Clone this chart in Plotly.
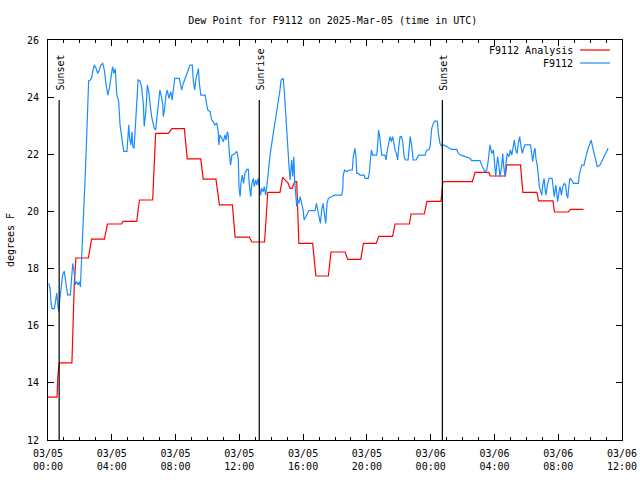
import pandas as pd
import plotly.graph_objects as go

base = pd.Timestamp("2025-03-05 00:00")

# Station observations (minutes after 03/05 00:00 UTC, dew point degF)
obs_minutes = [3,8,11,15,24,27,33,37,40,45,50,55,61,68,74,84,89,93,98,103,108,114,118,122,127,131,134,139,143,147,151,153,159,164,168,174,181,187,193,199,206,212,218,225,231,237,243,248,253,259,266,271,277,281,285,297,301,304,307,312,316,319,324,329,335,339,346,352,359,362,368,371,374,379,384,389,394,400,405,411,417,421,428,432,434,439,444,449,455,462,467,471,477,494,499,503,509,517,522,528,534,543,547,552,557,562,566,569,575,591,595,601,610,616,622,628,635,640,643,647,654,660,666,670,675,678,682,687,692,700,710,716,719,723,726,731,736,741,748,754,757,763,767,773,776,782,786,791,797,800,804,810,814,819,824,829,835,842,848,854,861,867,873,877,885,889,894,898,902,907,911,917,921,925,928,932,936,940,944,949,955,960,964,970,975,982,1005,1010,1015,1020,1025,1030,1035,1040,1045,1050,1055,1068,1077,1105,1109,1111,1116,1124,1130,1139,1145,1149,1155,1159,1162,1168,1174,1190,1193,1205,1209,1212,1217,1222,1237,1241,1244,1248,1252,1256,1268,1272,1277,1282,1287,1292,1297,1302,1306,1311,1316,1320,1325,1330,1335,1340,1345,1355,1360,1363,1369,1374,1385,1390,1395,1419,1425,1433,1438,1444,1450,1456,1465,1469,1475,1481,1488,1500,1509,1519,1538,1544,1554,1563,1576,1588,1594,1626,1632,1638,1644,1651,1657,1663,1667,1670,1676,1679,1685,1688,1692,1697,1701,1707,1711,1715,1720,1723,1728,1735,1740,1745,1750,1755,1760,1765,1770,1775,1780,1785,1790,1795,1816,1820,1824,1829,1833,1836,1841,1845,1849,1854,1858,1862,1867,1870,1874,1879,1883,1886,1897,1902,1905,1911,1914,1918,1923,1927,1932,1937,1943,1948,1952,1956,1959,1964,1971,1977,1996,1999,2005,2009,2017,2022,2027,2033,2040,2044,2049,2055,2062,2067,2077,2084,2090,2096,2102,2108]
obs_dewpoint = [17.48,17.31,16.84,16.6,16.6,16.84,17.14,16.73,16.49,16.96,17.43,17.78,17.91,17.43,17.08,17.08,17.89,18.18,17.89,17.43,17.54,17.43,17.54,17.36,18.47,19.17,20.1,21.04,21.97,23.14,24.31,24.57,24.6,24.67,24.89,25.12,25.0,24.83,24.95,25.12,25.18,24.95,24.48,24.07,24.31,24.78,25.07,24.83,25.0,24.07,23.84,23.03,22.68,22.33,22.1,22.1,22.56,23.03,22.56,22.33,22.79,22.27,22.21,23.14,23.96,24.6,24.57,24.37,23.73,22.97,23.49,24.19,24.43,24.19,23.73,23.38,23.14,22.91,22.85,23.38,23.73,24.25,23.96,23.73,23.32,23.61,24.07,24.25,23.96,24.19,23.9,24.31,24.66,24.66,24.43,24.25,24.48,24.66,24.78,24.95,25.12,25.12,24.54,24.25,24.66,24.83,25.0,24.54,24.07,24.07,23.84,23.55,23.49,23.2,23.14,23.03,23.08,22.85,22.33,22.68,22.56,22.44,22.68,22.5,22.79,22.68,22.1,21.62,21.97,22.0,22.1,21.86,20.81,20.52,20.98,21.27,20.98,21.33,21.47,21.47,20.98,20.52,20.98,21.16,20.87,21.1,20.92,21.16,20.75,20.57,20.81,20.69,20.87,20.57,20.92,21.45,21.92,22.38,22.73,23.08,23.55,23.96,24.25,24.6,24.66,24.25,23.43,22.62,22.03,21.57,21.1,21.8,21.22,21.92,21.1,20.63,20.17,20.4,20.28,20.52,20.28,20.05,19.7,19.82,19.93,20.03,20.03,20.28,20.05,19.82,19.58,20.05,20.28,19.93,19.58,20.28,20.46,20.52,20.57,20.57,20.75,21.27,21.45,21.39,21.43,21.45,21.45,21.92,22.21,21.92,21.33,21.33,21.27,21.27,21.16,21.16,21.33,21.68,22.15,21.97,21.97,22.38,22.85,22.62,22.33,21.97,21.97,21.8,22.15,22.44,22.62,22.44,22.62,22.38,22.15,22.03,21.8,22.27,22.62,22.62,22.44,21.92,21.8,21.8,22.27,22.62,22.27,21.8,21.8,21.92,21.97,21.97,22.15,22.15,22.27,22.91,23.08,23.16,23.16,22.73,22.38,22.29,22.33,22.27,22.21,22.17,22.17,22.03,21.97,21.94,21.92,21.86,21.78,21.78,21.62,21.51,21.39,21.45,21.8,22.33,22.15,22.03,22.15,21.8,21.22,21.57,21.92,21.57,21.22,21.57,22.03,21.57,21.22,21.62,22.03,21.92,22.15,21.97,22.27,22.5,22.15,22.03,22.38,22.62,22.27,22.03,22.21,22.33,22.33,22.1,21.74,22.1,22.21,21.86,21.62,21.27,20.87,20.69,20.57,20.92,21.16,20.81,20.57,20.92,21.04,21.16,21.16,20.69,20.52,20.92,20.69,20.34,20.69,20.87,20.57,20.87,20.98,20.92,20.57,20.46,20.81,21.16,21.1,20.98,20.98,21.27,21.51,21.62,21.62,21.86,22.03,22.21,22.38,22.5,22.27,22.03,21.8,21.57,21.62,21.74,21.86,22.0,22.1,22.21]

# Analysis (minutes, dew point degF)
ana_minutes = [0,34,37,42,90,95,99,105,152,164,212,224,277,282,334,344,394,405,453,466,513,524,575,584,632,645,694,704,758,767,815,827,873,883,892,904,911,919,923,929,936,940,942,944,996,1008,1055,1065,1118,1128,1177,1187,1235,1245,1297,1306,1360,1366,1416,1426,1479,1486,1597,1607,1659,1664,1721,1726,1778,1787,1840,1846,1900,1906,1958,1967,2015]
ana_values = [13.5,13.5,14.2,14.7,14.7,16.5,17.46,18.37,18.37,19.03,19.03,19.56,19.56,19.65,19.65,20.4,20.4,22.73,22.73,22.9,22.9,21.84,21.84,21.13,21.13,20.23,20.23,19.1,19.1,18.93,18.93,20.67,20.67,21.19,21.1,20.98,20.81,20.81,20.92,21.04,21.04,20.17,19.23,18.88,18.88,17.74,17.74,18.58,18.58,18.32,18.32,18.88,18.88,19.13,19.13,19.56,19.56,19.91,19.91,20.35,20.35,21.04,21.04,21.37,21.37,21.24,21.24,21.63,21.63,20.67,20.67,20.37,20.37,19.98,19.98,20.07,20.07]

# Sun events
event_times = ["2025-03-05 00:42", "2025-03-05 13:15", "2025-03-06 00:44"]
event_labels = ["Sunset", "Sunrise", "Sunset"]
event_line_top = 23.9

tick_times = ["2025-03-05 00:00", "2025-03-05 04:00", "2025-03-05 08:00", "2025-03-05 12:00",
              "2025-03-05 16:00", "2025-03-05 20:00", "2025-03-06 00:00", "2025-03-06 04:00",
              "2025-03-06 08:00", "2025-03-06 12:00"]
tick_labels = ["03/05<br>00:00", "03/05<br>04:00", "03/05<br>08:00", "03/05<br>12:00",
               "03/05<br>16:00", "03/05<br>20:00", "03/06<br>00:00", "03/06<br>04:00",
               "03/06<br>08:00", "03/06<br>12:00"]

RED = "#ff0000"
BLUE = "#1a8cff"
FONT = "DejaVu Sans Mono"
FS = 10

obs_t = base + pd.to_timedelta(obs_minutes, unit="m")
ana_t = base + pd.to_timedelta(ana_minutes, unit="m")

fig = go.Figure()
fig.add_trace(go.Scatter(x=ana_t, y=ana_values, mode="lines", name="F9112 Analysis",
                         line=dict(color=RED, width=1.2), showlegend=False))
fig.add_trace(go.Scatter(x=obs_t, y=obs_dewpoint, mode="lines", name="F9112",
                         line=dict(color=BLUE, width=1.2), showlegend=False))

for t, lab in zip(event_times, event_labels):
    fig.add_shape(type="line", xref="x", yref="y", x0=t, x1=t, y0=12, y1=event_line_top,
                  line=dict(color="black", width=1.2))
    fig.add_annotation(x=t, y=event_line_top + 0.25, xref="x", yref="y", text=lab,
                       textangle=-90, showarrow=False, xanchor="center", yanchor="bottom",
                       xshift=1.5, font=dict(family=FONT, size=FS, color="black"))

# Legend (text left of the line sample, like the original)
legend_names = ["F9112 Analysis", "F9112"]
legend_colors = [RED, BLUE]
for i, (nm, col) in enumerate(zip(legend_names, legend_colors)):
    yp = 0.975 - i * 0.0325
    fig.add_annotation(x=0.918, y=yp, xref="paper", yref="paper", text=nm, showarrow=False,
                       xanchor="right", yanchor="middle", font=dict(family=FONT, size=FS, color="black"))
    fig.add_shape(type="line", xref="paper", yref="paper", x0=0.927, x1=0.979, y0=yp, y1=yp,
                  line=dict(color=col, width=1.2))

# Y axis title
fig.add_annotation(x=-0.066, y=0.5, xref="paper", yref="paper", text="degrees F", textangle=-90,
                   showarrow=False, xanchor="center", yanchor="middle",
                   font=dict(family=FONT, size=FS, color="black"))

fig.update_layout(
    width=640, height=480,
    margin=dict(l=48, r=18, t=40, b=40, autoexpand=False),
    paper_bgcolor="white", plot_bgcolor="white",
    font=dict(family=FONT, size=FS, color="black"),
    title=dict(text="Dew Point for F9112 on 2025-Mar-05 (time in UTC)", x=0.52, xanchor="center",
               y=0.958, yanchor="middle", font=dict(family=FONT, size=FS, color="black")),
    showlegend=False,
)
fig.update_xaxes(
    type="date", range=["2025-03-05 00:00", "2025-03-06 12:00"],
    tickvals=tick_times, ticktext=tick_labels, automargin=False,
    ticks="inside", ticklen=6, tickcolor="black", showgrid=False, zeroline=False,
    showline=True, linecolor="black", linewidth=1, mirror="allticks",
    minor=dict(dtick=3600000, ticks="inside", ticklen=3, tickcolor="black", showgrid=False),
    tickfont=dict(family=FONT, size=FS), ticklabelstandoff=4,
)
fig.update_yaxes(
    range=[12, 26], dtick=2, tick0=12, automargin=False,
    ticks="inside", ticklen=6, tickcolor="black", showgrid=False, zeroline=False,
    showline=True, linecolor="black", linewidth=1, mirror="allticks",
    tickfont=dict(family=FONT, size=FS), ticklabelstandoff=6,
)

fig.write_html("out.html", config={"displayModeBar": False},
               post_script="document.body.style.margin='0';")
